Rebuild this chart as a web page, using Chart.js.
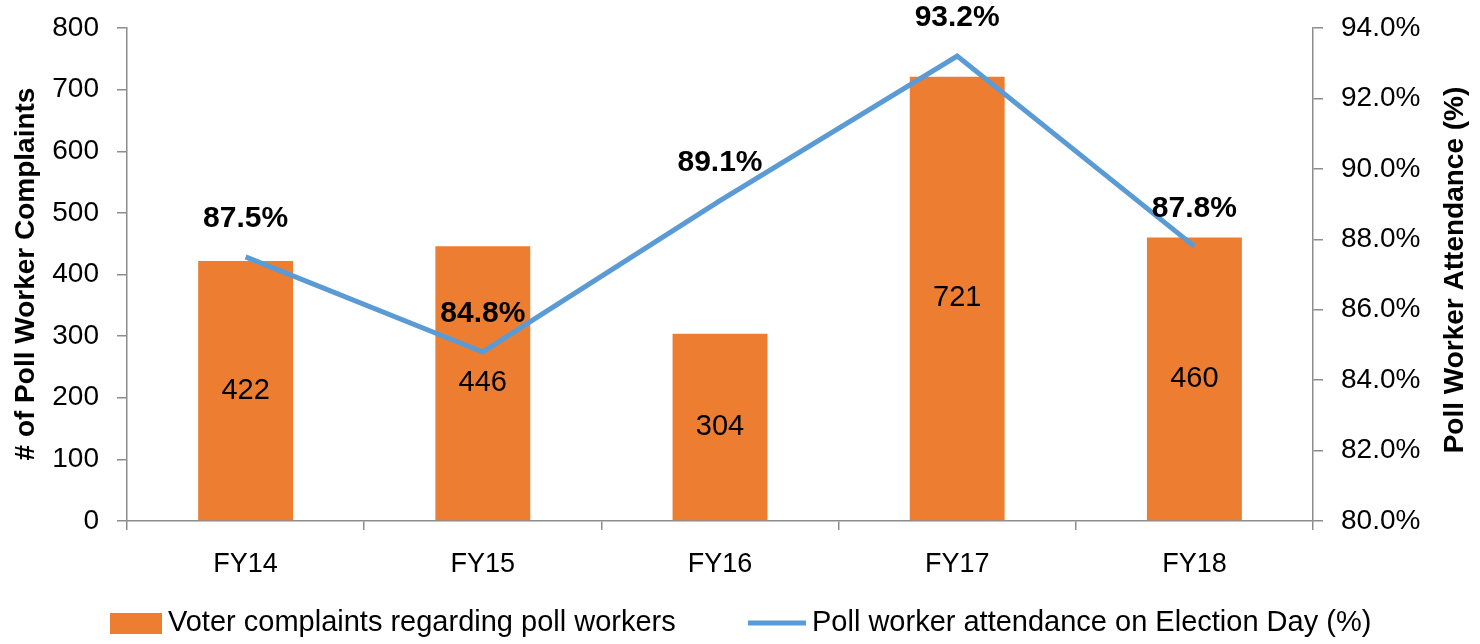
<!DOCTYPE html>
<html>
<head>
<meta charset="utf-8">
<script src="https://cdn.jsdelivr.net/npm/chart.js@4.4.1/dist/chart.umd.min.js"></script>
<style>
  html, body { margin: 0; padding: 0; background: #fff; }
  #wrap { width: 1480px; height: 644px; }
</style>
</head>
<body>
<div id="wrap"><canvas id="myChart" width="1480" height="644"></canvas></div>
<script>
    // chart values
    const categories = ['FY14', 'FY15', 'FY16', 'FY17', 'FY18']
    const complaints = [422, 446, 304, 721, 460]
    const attendance = [87.5, 84.8, 89.1, 93.2, 87.8]
    const barLabel = 'Voter complaints regarding poll workers'
    const lineLabel = 'Poll worker attendance on Election Day (%)'
    const leftTitle = '# of Poll Worker Complaints'
    const rightTitle = 'Poll Worker Attendance (%)'

    const FONT = "'Liberation Sans', Arial, sans-serif"
    const ORANGE = '#ED7D31'
    const BLUE = '#5B9BD5'
    const AXIS = '#8c8c8c'

    // draws the value labels, the axis titles and the legend at the bottom
    const labelsPlugin = {
      id: 'labels',
      afterDatasetsDraw(chart) {
        var ctx = chart.ctx
        ctx.save()
        ctx.fillStyle = '#000'
        ctx.textAlign = 'center'
        ctx.textBaseline = 'middle'

        // bar values in the middle of each bar
        ctx.font = '29px ' + FONT
        chart.getDatasetMeta(0).data.forEach(function(bar, i) {
          ctx.fillText(complaints[i], bar.x, (bar.y + bar.base) / 2)
        })

        // line values above each point
        ctx.font = 'bold 30px ' + FONT
        chart.getDatasetMeta(1).data.forEach(function(pt, i) {
          ctx.fillText(attendance[i].toFixed(1) + '%', pt.x, pt.y - 38)
        })

        // axis titles, both reading bottom to top
        ctx.font = 'bold 28px ' + FONT
        ctx.save()
        ctx.translate(26, 274)
        ctx.rotate(-Math.PI / 2)
        ctx.fillText(leftTitle, 0, 0)
        ctx.restore()
        ctx.save()
        ctx.translate(1455, 270)
        ctx.rotate(-Math.PI / 2)
        ctx.fillText(rightTitle, 0, 0)
        ctx.restore()

        // legend
        var ly = 623
        ctx.fillStyle = ORANGE
        ctx.fillRect(110, ly - 10, 52, 21)
        ctx.strokeStyle = BLUE
        ctx.lineWidth = 5
        ctx.beginPath()
        ctx.moveTo(748, ly)
        ctx.lineTo(806, ly)
        ctx.stroke()
        ctx.fillStyle = '#000'
        ctx.textAlign = 'left'
        ctx.font = '29px ' + FONT
        ctx.fillText(barLabel, 168, ly)
        ctx.fillText(lineLabel, 812, ly)
        ctx.restore()
      }
    }

    var ctx = document.getElementById('myChart').getContext('2d')
    var chart = new Chart(ctx, {
      type: 'bar',
      data: {
        labels: categories,
        datasets: [{
          type: 'bar',
          label: barLabel,
          data: complaints,
          backgroundColor: ORANGE,
          categoryPercentage: 1,
          barPercentage: 0.4,
          yAxisID: 'y',
          order: 1
        }, {
          type: 'line',
          label: lineLabel,
          data: attendance,
          borderColor: BLUE,
          borderWidth: 5,
          pointRadius: 0,
          tension: 0,
          yAxisID: 'y1',
          order: 0
        }]
      },
      plugins: [labelsPlugin],
      options: {
        responsive: false,
        animation: false,
        layout: { padding: { top: 28, bottom: 0, left: 0, right: 0 } },
        plugins: {
          legend: { display: false },
          tooltip: { enabled: false }
        },
        scales: {
          x: {
            grid: { display: true, drawOnChartArea: false, offset: true, tickLength: 9, tickColor: AXIS, lineWidth: 1.5 },
            border: { color: AXIS, width: 1.5 },
            ticks: { color: '#000', font: { family: FONT, size: 27 }, padding: 18 },
            afterFit: function(scale) {
              scale.height = 123
              scale.paddingLeft = 0
              scale.paddingRight = 0
            }
          },
          y: {
            position: 'left',
            min: 0,
            max: 800,
            grid: { drawOnChartArea: false, tickLength: 10, tickColor: AXIS, lineWidth: 1.5 },
            border: { color: AXIS, width: 1.5 },
            ticks: { stepSize: 100, color: '#000', font: { family: FONT, size: 28 }, padding: 18 },
            afterFit: function(scale) {
              scale.width = 127
              scale.paddingTop = 0
              scale.paddingBottom = 0
            }
          },
          y1: {
            position: 'right',
            min: 80,
            max: 94,
            grid: { drawOnChartArea: false, tickLength: 10, tickColor: AXIS, lineWidth: 1.5 },
            border: { color: AXIS, width: 1.5 },
            ticks: {
              stepSize: 2,
              color: '#000',
              font: { family: FONT, size: 28 },
              padding: 18,
              callback: function(v) { return v.toFixed(1) + '%' }
            },
            afterFit: function(scale) {
              scale.width = 167
              scale.paddingTop = 0
              scale.paddingBottom = 0
            }
          }
        }
      }
    })
</script>
</body>
</html>
